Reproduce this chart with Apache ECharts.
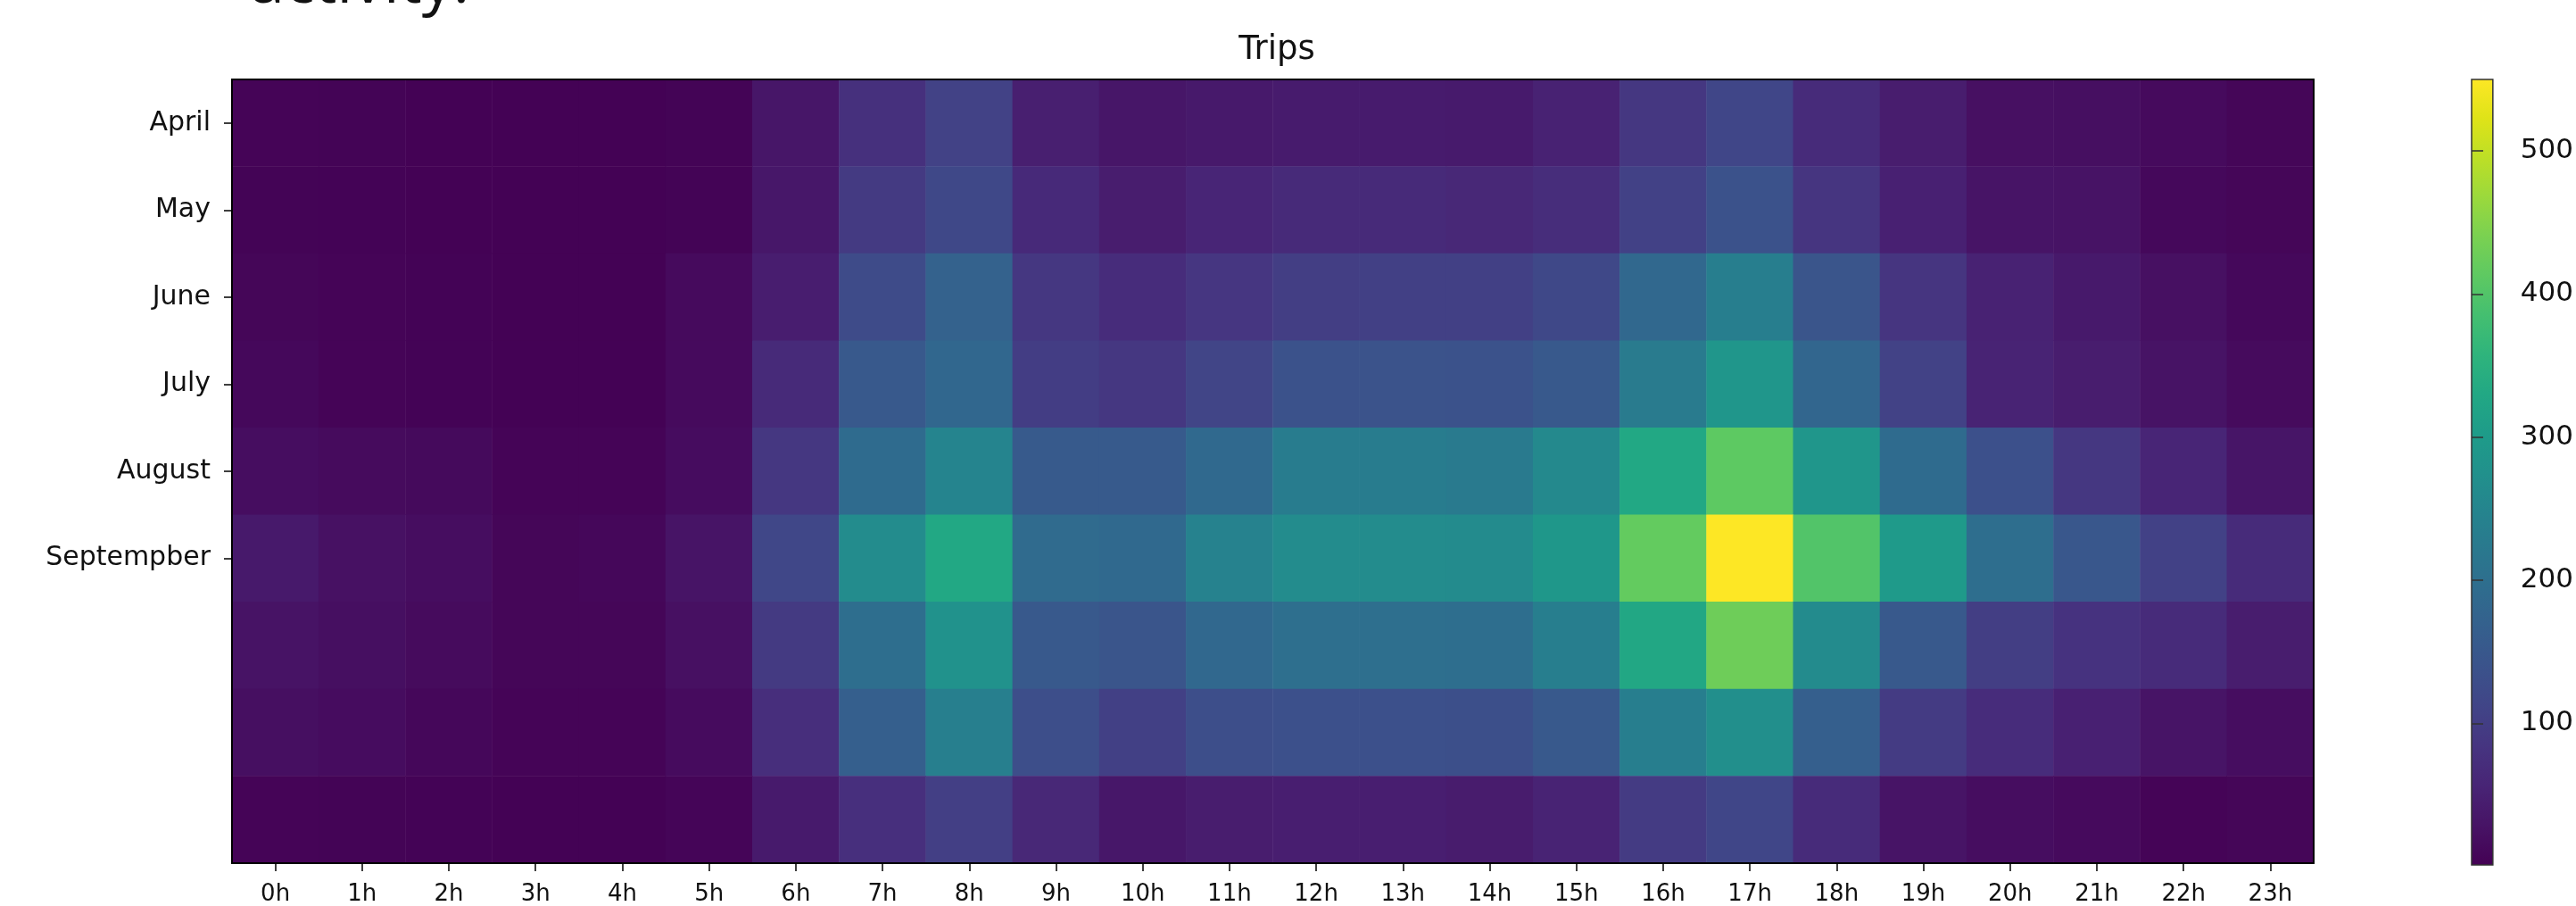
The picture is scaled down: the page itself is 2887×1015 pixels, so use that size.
<!DOCTYPE html>
<html>
<head>
<meta charset="utf-8">
<script src="https://cdn.jsdelivr.net/npm/echarts@6/dist/echarts.min.js"></script>
<style>
html,body{margin:0;padding:0;background:#fff;}
#chart{width:2887px;height:1015px;}
</style>
</head>
<body>
<div id="chart"></div>
<script>
// ---- data ----
var hours = ['0h','1h','2h','3h','4h','5h','6h','7h','8h','9h','10h','11h','12h','13h','14h','15h','16h','17h','18h','19h','20h','21h','22h','23h'];
var rowNames = ['April','May','June','July','August','Septempber','row7','row8','row9'];
var monthLabels = ['April','May','June','July','August','Septempber'];
var colorbarTicks = [100,200,300,400,500];

var april     = [6,5,3,2,2,5,33,77,108,48,33,38,42,42,40,52,88,115,68,44,24,22,15,8];
var may       = [5,4,3,2,2,5,35,93,118,65,44,58,66,66,62,72,105,138,85,50,30,28,12,8];
var june      = [8,6,4,3,3,15,45,125,172,88,70,86,100,104,104,118,185,235,145,85,52,38,24,12];
var july      = [12,6,4,3,3,15,66,152,182,98,88,112,138,140,138,152,228,287,180,108,55,44,28,16];
var august    = [20,16,14,6,6,18,88,192,248,155,155,187,230,230,225,258,330,412,287,192,135,88,58,32];
var september = [38,26,20,8,10,30,117,265,330,190,187,243,265,265,262,290,418,550,400,297,198,148,105,68];
var row7      = [28,22,16,8,8,24,93,198,277,153,145,185,200,200,198,235,328,428,262,153,100,80,68,44];
var row8      = [22,18,10,6,6,17,73,165,237,130,104,130,135,135,133,152,235,272,165,95,70,50,30,20];
var row9      = [6,5,4,3,3,7,40,75,102,62,35,44,47,47,43,55,95,115,68,30,20,15,6,8];

var rows = [april, may, june, july, august, september, row7, row8, row9];
var valueMin = 1, valueMax = 550;

var viridis = ['#440154','#471365','#482475','#463480','#414487','#3b528b','#355f8d','#2f6c8e','#2a788e','#25848e','#21918c','#1e9c89','#22a884','#2fb47c','#44bf70','#5ec962','#7ad151','#9bd93c','#bddf26','#dfe318','#fde725'];

var heat = [];
rows.forEach(function(r, yi){ r.forEach(function(v, xi){ heat.push([xi, yi, v]); }); });

var colorbarFill = {type:'linear', x:0, y:1, x2:0, y2:0,
  colorStops: viridis.map(function(c, i){ return {offset: i/(viridis.length-1), color: c}; })};

var FONT = 'DejaVu Sans';
var chart = echarts.init(document.getElementById('chart'), null, {renderer:'canvas'});
chart.setOption({
  animation:false,
  backgroundColor:'#fff',
  title:{text:'Trips', left:1426, top:33, textAlign:'center',
    textStyle:{fontFamily:FONT, fontSize:37, fontWeight:'normal', color:'#111'}},
  graphic:[{type:'text', left:280, top:-52, silent:true,
    style:{text:'activity.', font:'70px "Open Sans"', fill:'#111'}}],
  grid:[
    {left:260, top:89, width:2333, height:879, show:true, borderColor:'#000', borderWidth:2, backgroundColor:'transparent', z:10},
    {left:2770, top:89, width:44, height:880, show:true, borderColor:'#333', borderWidth:1.5, backgroundColor:colorbarFill}
  ],
  xAxis:[
    {type:'category', gridIndex:0, data:hours, position:'bottom',
      axisLine:{show:false},
      axisTick:{show:true, alignWithLabel:true, length:9, lineStyle:{color:'#000', width:1.5}},
      axisLabel:{fontFamily:FONT, fontSize:26, color:'#111', margin:22},
      splitLine:{show:false}},
    {type:'value', gridIndex:1, show:false, min:0, max:1}
  ],
  yAxis:[
    {type:'category', gridIndex:0, data:rowNames, inverse:true,
      axisLine:{show:false},
      axisTick:{show:true, alignWithLabel:true, length:9, lineStyle:{color:'#000', width:1.5},
        interval:function(i){ return i < monthLabels.length; }},
      axisLabel:{fontFamily:FONT, fontSize:30, color:'#111', margin:24,
        interval:0,
        formatter:function(v, i){ return i < monthLabels.length ? monthLabels[i] : ''; }},
      splitLine:{show:false}},
    {type:'value', gridIndex:1, min:valueMin, max:valueMax, position:'right',
      axisLine:{show:false},
      axisTick:{show:true, length:13, customValues:colorbarTicks, lineStyle:{color:'#333', width:1.5}},
      axisLabel:{fontFamily:FONT, fontSize:31, color:'#111', margin:31, customValues:colorbarTicks},
      splitLine:{show:false}}
  ],
  visualMap:{type:'continuous', show:false, min:valueMin, max:valueMax, seriesIndex:0,
    inRange:{color:viridis}},
  series:[{type:'heatmap', xAxisIndex:0, yAxisIndex:0, data:heat,
    itemStyle:{borderWidth:0}, emphasis:{disabled:true}, progressive:0}]
});
</script>
</body>
</html>
